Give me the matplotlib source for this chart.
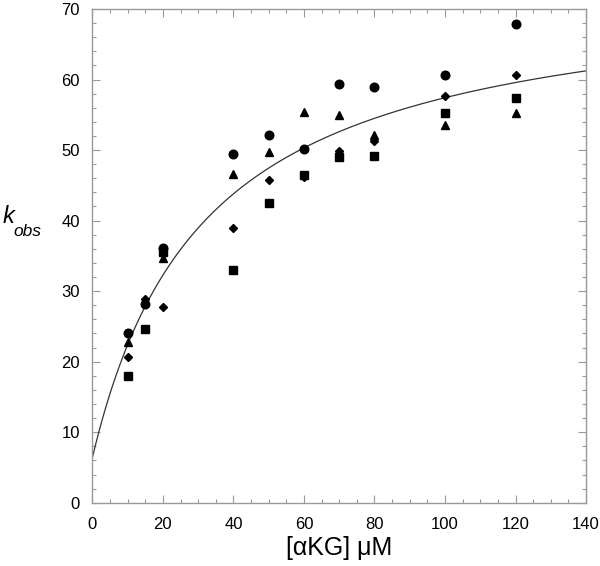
import numpy as np
import matplotlib
matplotlib.use("Agg")
from matplotlib import pyplot as plt
from matplotlib.ticker import MultipleLocator

plt.rcParams['font.family'] = ['Liberation Sans', 'DejaVu Sans']

# substrate concentrations (uM)
akg = [10, 15, 20, 40, 50, 60, 70, 80, 100, 120]

# kobs for the four replicate series
kobs_circle   = [24.0, 28.2, 36.1, 49.5, 52.1, 50.2, 59.4, 58.9, 60.7, 67.9]
kobs_triangle = [22.8, 28.6, 34.7, 46.6, 49.7, 55.4, 55.0, 52.1, 53.6, 55.2]
kobs_diamond  = [20.7, 28.9, 27.8, 39.0, 45.8, 46.2, 49.9, 51.3, 57.6, 60.7]
kobs_square   = [17.9, 24.7, 35.5, 33.0, 42.5, 46.4, 49.0, 49.1, 55.3, 57.4]

# hyperbolic fit: k = k0 + kmax*[S]/(Km + [S])
k0 = 6.4
kmax = 67.4
Km = 32.1

fig = plt.figure(figsize=(6, 5.66), dpi=100)
ax = fig.add_axes([0.154, 0.1118, 0.8227, 0.8723])

xfit = np.linspace(0, 140, 300)
ax.plot(xfit, k0 + kmax * xfit / (Km + xfit), color='#333333', lw=0.9)

ax.plot(akg, kobs_circle, 'o', color='black', ms=6.2, ls='none')
ax.plot(akg, kobs_triangle, '^', color='black', ms=6.2, ls='none')
ax.plot(akg, kobs_diamond, 'D', color='black', ms=4.3, ls='none')
ax.plot(akg, kobs_square, 's', color='black', ms=6.0, ls='none')

ax.set_xlim(0, 140)
ax.set_ylim(0, 70)
ax.xaxis.set_major_locator(MultipleLocator(20))
ax.xaxis.set_minor_locator(MultipleLocator(5))
ax.yaxis.set_major_locator(MultipleLocator(10))
ax.yaxis.set_minor_locator(MultipleLocator(2))

for s in ax.spines.values():
    s.set_color('#999999')
    s.set_linewidth(1.0)
ax.tick_params(which='both', direction='in', top=True, right=True,
               color='#999999', width=0.8, labelsize=12)
ax.tick_params(which='major', length=6)
ax.tick_params(which='minor', length=3.2)
ax.tick_params(axis='x', which='major', pad=10)
ax.tick_params(axis='y', which='major', pad=9)

ax.set_xlabel('[\u03b1KG] \u03bcM', fontsize=18, labelpad=3)
fig.text(0.004, 0.618, 'k', fontsize=17, style='italic', ha='left', va='center')
fig.text(0.022, 0.591, 'obs', fontsize=12.5, style='italic', ha='left', va='center')

fig.savefig('out.png', dpi=100)
